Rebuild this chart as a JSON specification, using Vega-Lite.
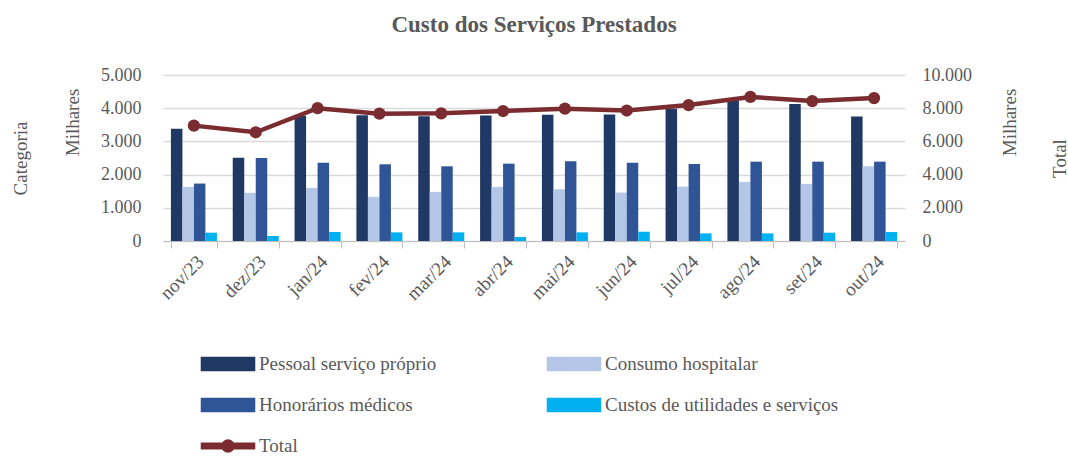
{
  "$schema": "https://vega.github.io/schema/vega-lite/v6.json",
  "width": 742,
  "height": 166,
  "autosize": {"type": "none"},
  "padding": {"left": 163, "top": 75, "right": 163, "bottom": 216},
  "title": {"text": "Custo dos Serviços Prestados", "font": "Liberation Serif", "fontSize": 23, "fontWeight": "bold", "color": "#595959", "anchor": "middle", "offset": 29},
  "config": {
    "view": {"stroke": null},
    "font": "Liberation Serif",
    "locale": {"number": {"decimal": ",", "thousands": ".", "grouping": [3], "currency": ["R$", ""]}},
    "axis": {"labelColor": "#595959", "titleColor": "#595959", "labelFont": "Liberation Serif", "titleFont": "Liberation Serif", "labelFontSize": 18, "titleFontSize": 19, "titleFontWeight": "normal"}
  },
  "data": {"values": [
    {"mes": "nov/23", "serie": "Pessoal serviço próprio", "valor": 3380},
    {"mes": "nov/23", "serie": "Consumo hospitalar", "valor": 1630},
    {"mes": "nov/23", "serie": "Honorários médicos", "valor": 1730},
    {"mes": "nov/23", "serie": "Custos de utilidades e serviços", "valor": 250},
    {"mes": "nov/23", "serie": "Total", "valor": 6950},
    {"mes": "dez/23", "serie": "Pessoal serviço próprio", "valor": 2510},
    {"mes": "dez/23", "serie": "Consumo hospitalar", "valor": 1450},
    {"mes": "dez/23", "serie": "Honorários médicos", "valor": 2500},
    {"mes": "dez/23", "serie": "Custos de utilidades e serviços", "valor": 150},
    {"mes": "dez/23", "serie": "Total", "valor": 6550},
    {"mes": "jan/24", "serie": "Pessoal serviço próprio", "valor": 3770},
    {"mes": "jan/24", "serie": "Consumo hospitalar", "valor": 1600},
    {"mes": "jan/24", "serie": "Honorários médicos", "valor": 2360},
    {"mes": "jan/24", "serie": "Custos de utilidades e serviços", "valor": 270},
    {"mes": "jan/24", "serie": "Total", "valor": 8000},
    {"mes": "fev/24", "serie": "Pessoal serviço próprio", "valor": 3790},
    {"mes": "fev/24", "serie": "Consumo hospitalar", "valor": 1330},
    {"mes": "fev/24", "serie": "Honorários médicos", "valor": 2310},
    {"mes": "fev/24", "serie": "Custos de utilidades e serviços", "valor": 260},
    {"mes": "fev/24", "serie": "Total", "valor": 7670},
    {"mes": "mar/24", "serie": "Pessoal serviço próprio", "valor": 3760},
    {"mes": "mar/24", "serie": "Consumo hospitalar", "valor": 1480},
    {"mes": "mar/24", "serie": "Honorários médicos", "valor": 2250},
    {"mes": "mar/24", "serie": "Custos de utilidades e serviços", "valor": 260},
    {"mes": "mar/24", "serie": "Total", "valor": 7690},
    {"mes": "abr/24", "serie": "Pessoal serviço próprio", "valor": 3780},
    {"mes": "abr/24", "serie": "Consumo hospitalar", "valor": 1630},
    {"mes": "abr/24", "serie": "Honorários médicos", "valor": 2330},
    {"mes": "abr/24", "serie": "Custos de utilidades e serviços", "valor": 120},
    {"mes": "abr/24", "serie": "Total", "valor": 7830},
    {"mes": "mai/24", "serie": "Pessoal serviço próprio", "valor": 3800},
    {"mes": "mai/24", "serie": "Consumo hospitalar", "valor": 1560},
    {"mes": "mai/24", "serie": "Honorários médicos", "valor": 2400},
    {"mes": "mai/24", "serie": "Custos de utilidades e serviços", "valor": 260},
    {"mes": "mai/24", "serie": "Total", "valor": 7970},
    {"mes": "jun/24", "serie": "Pessoal serviço próprio", "valor": 3810},
    {"mes": "jun/24", "serie": "Consumo hospitalar", "valor": 1460},
    {"mes": "jun/24", "serie": "Honorários médicos", "valor": 2360},
    {"mes": "jun/24", "serie": "Custos de utilidades e serviços", "valor": 280},
    {"mes": "jun/24", "serie": "Total", "valor": 7860},
    {"mes": "jul/24", "serie": "Pessoal serviço próprio", "valor": 3980},
    {"mes": "jul/24", "serie": "Consumo hospitalar", "valor": 1640},
    {"mes": "jul/24", "serie": "Honorários médicos", "valor": 2320},
    {"mes": "jul/24", "serie": "Custos de utilidades e serviços", "valor": 230},
    {"mes": "jul/24", "serie": "Total", "valor": 8190},
    {"mes": "ago/24", "serie": "Pessoal serviço próprio", "valor": 4230},
    {"mes": "ago/24", "serie": "Consumo hospitalar", "valor": 1780},
    {"mes": "ago/24", "serie": "Honorários médicos", "valor": 2390},
    {"mes": "ago/24", "serie": "Custos de utilidades e serviços", "valor": 230},
    {"mes": "ago/24", "serie": "Total", "valor": 8680},
    {"mes": "set/24", "serie": "Pessoal serviço próprio", "valor": 4130},
    {"mes": "set/24", "serie": "Consumo hospitalar", "valor": 1720},
    {"mes": "set/24", "serie": "Honorários médicos", "valor": 2390},
    {"mes": "set/24", "serie": "Custos de utilidades e serviços", "valor": 250},
    {"mes": "set/24", "serie": "Total", "valor": 8430},
    {"mes": "out/24", "serie": "Pessoal serviço próprio", "valor": 3750},
    {"mes": "out/24", "serie": "Consumo hospitalar", "valor": 2250},
    {"mes": "out/24", "serie": "Honorários médicos", "valor": 2390},
    {"mes": "out/24", "serie": "Custos de utilidades e serviços", "valor": 270},
    {"mes": "out/24", "serie": "Total", "valor": 8610}
  ]},
  "encoding": {
    "x": {
      "field": "mes", "type": "nominal",
      "sort": ["nov/23", "dez/23", "jan/24", "fev/24", "mar/24", "abr/24", "mai/24", "jun/24", "jul/24", "ago/24", "set/24", "out/24"],
      "scale": {"paddingInner": 0.256, "paddingOuter": 0.128},
      "axis": {"title": null, "labelAngle": -45, "labelFontSize": 19, "tickBand": "extent", "domainColor": "#bfbfbf", "tickColor": "#bfbfbf", "tickSize": 7, "labelPadding": 4, "grid": false}
    }
  },
  "layer": [
    {
      "transform": [{"filter": "datum.serie !== 'Total'"}],
      "mark": {"type": "bar"},
      "encoding": {
        "xOffset": {"field": "serie", "type": "nominal", "sort": ["Pessoal serviço próprio", "Consumo hospitalar", "Honorários médicos", "Custos de utilidades e serviços"]},
        "y": {
          "field": "valor", "type": "quantitative",
          "scale": {"domain": [0, 5000]},
          "axis": {"orient": "left", "title": "Milhares", "titleY": 47, "values": [0, 1000, 2000, 3000, 4000, 5000], "grid": true, "gridColor": "#d9d9d9", "gridWidth": 1.5, "domain": false, "ticks": false, "labelPadding": 22, "titlePadding": 18}
        },
        "color": {
          "field": "serie", "type": "nominal",
          "scale": {"domain": ["Pessoal serviço próprio", "Consumo hospitalar", "Honorários médicos", "Custos de utilidades e serviços", "Total"], "range": ["#203864", "#B4C7E7", "#2F5597", "#00B0F0", "#7B2C30"]},
          "legend": {
            "orient": "none", "legendX": 51, "legendY": 275, "direction": "horizontal", "columns": 2, "columnPadding": 107, "rowPadding": 17,
            "title": null, "labelFontSize": 19, "labelColor": "#595959", "labelFont": "Liberation Serif", "labelLimit": 500,
            "symbolSize": 676, "labelOffset": 17,
            "encode": {"symbols": {"update": {
              "shape": {"signal": "datum.value === 'Total' ? 'M-2.04,-0.21H2.04V0.21H-2.04Z M0.46,0A0.46,0.46,0,1,1,-0.46,0A0.46,0.46,0,1,1,0.46,0Z' : 'M-2.04,-0.5H2.04V0.5H-2.04Z'"},
              "fill": {"scale": "color", "field": "value"},
              "stroke": {"value": "transparent"},
              "opacity": {"value": 1}
            }}}
          }
        }
      }
    },
    {
      "transform": [{"filter": "datum.serie === 'Total'"}],
      "mark": {"type": "line", "strokeWidth": 4.5, "point": {"size": 150, "filled": true, "opacity": 1}},
      "encoding": {
        "y": {
          "field": "valor", "type": "quantitative",
          "scale": {"domain": [0, 10000]},
          "axis": {"orient": "right", "title": "Milhares", "titleAngle": 270, "titleY": 47, "values": [0, 2000, 4000, 6000, 8000, 10000], "grid": false, "domain": false, "ticks": false, "labelPadding": 17, "titlePadding": 48}
        },
        "color": {"field": "serie", "type": "nominal"}
      }
    },
    {
      "transform": [{"filter": "datum.serie === 'Total'"}],
      "mark": {"type": "point", "opacity": 0},
      "encoding": {
        "y": {
          "field": "valor", "type": "quantitative",
          "scale": {"domain": [0, 10000]},
          "axis": {"orient": "left", "title": "Categoria", "labels": false, "grid": false, "domain": false, "ticks": false, "titlePadding": 133}
        }
      }
    },
    {
      "transform": [{"filter": "datum.serie === 'Total'"}],
      "mark": {"type": "point", "opacity": 0},
      "encoding": {
        "y": {
          "field": "valor", "type": "quantitative",
          "scale": {"domain": [0, 10000]},
          "axis": {"orient": "right", "title": "Total", "titleAngle": 270, "labels": false, "grid": false, "domain": false, "ticks": false, "titlePadding": 164}
        }
      }
    }
  ],
  "resolve": {"scale": {"y": "independent"}}
}
